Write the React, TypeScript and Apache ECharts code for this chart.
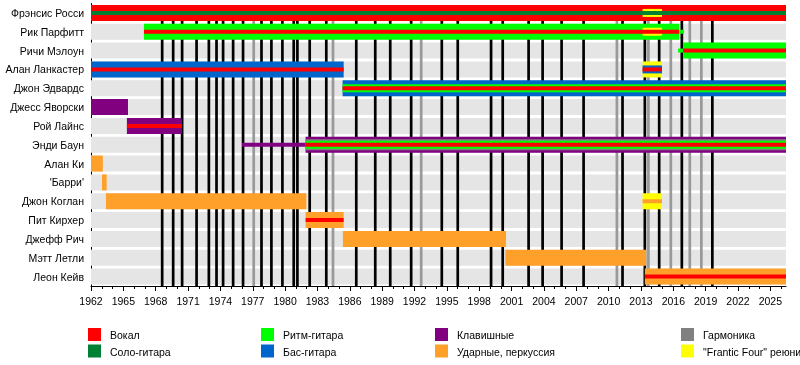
import React, { useEffect, useRef } from "react";
import * as echarts from "echarts";

const MEMBERS = [
  "Фрэнсис Росси",
  "Рик Парфитт",
  "Ричи Мэлоун",
  "Алан Ланкастер",
  "Джон Эдвардс",
  "Джесс Яворски",
  "Рой Лайнс",
  "Энди Баун",
  "Алан Ки",
  "'Барри'",
  "Джон Коглан",
  "Пит Кирхер",
  "Джефф Рич",
  "Мэтт Летли",
  "Леон Кейв",
];

const START = 1962;
const END = 2026.45;

const TICK_YEARS = [1962, 1965, 1968, 1971, 1974, 1977, 1980, 1983, 1986, 1989, 1992, 1995, 1998, 2001, 2004, 2007, 2010, 2013, 2016, 2019, 2022, 2025];

// roles: key, legend label, colour
const ROLES = [
  { key: "vocal", label: "Вокал", color: "#ff0000" },
  { key: "lead", label: "Соло-гитара", color: "#008033" },
  { key: "rhythm", label: "Ритм-гитара", color: "#00ff00" },
  { key: "bass", label: "Бас-гитара", color: "#0066cc" },
  { key: "keys", label: "Клавишные", color: "#800080" },
  { key: "drums", label: "Ударные, перкуссия", color: "#ffa02a" },
  { key: "harmonica", label: "Гармоника", color: "#808080" },
  { key: "reunion", label: "\"Frantic Four\" реюнион", color: "#ffff00" },
];

// studio albums (black lines) and live albums (grey lines)
const STUDIO_RELEASES = [1968.6, 1969.62, 1970.45, 1971.79, 1972.93, 1973.64, 1974.25, 1975.18, 1976.1, 1977.81, 1978.73, 1979.75, 1980.8, 1981.14, 1982.28, 1983.82, 1986.6, 1988.36, 1989.75, 1991.69, 1994.53, 1996.01, 1999.1, 2000.18, 2002.58, 2003.88, 2005.64, 2007.68, 2011.29, 2013.36, 2014.69, 2016.79, 2019.62];
const LIVE_RELEASES = [1977.09, 1984.44, 1992.62, 2010.77, 2013.69, 2015.77, 2017.53, 2018.6];

// [member row, role, start, end, layer (0 = main role, 3 = innermost stripe)]
const SEGMENTS: [number, string, number, number, number][] = [
  [0, "vocal", 1962, END, 0],
  [0, "reunion", 2013.15, 2014.95, 2],
  [0, "lead", 1962, END, 3],
  [1, "rhythm", 1966.91, 2016.54, 0],
  [1, "reunion", 2013.15, 2014.95, 2],
  [1, "vocal", 1966.91, 2016.54, 3],
  [1, "rhythm", 2016.54, 2017.0, 3],
  [2, "rhythm", 2016.44, 2016.91, 3],
  [2, "rhythm", 2016.91, END, 0],
  [2, "vocal", 2016.91, END, 3],
  [3, "bass", 1962, 1985.43, 0],
  [3, "reunion", 2013.15, 2014.95, 0],
  [3, "bass", 2013.15, 2014.95, 2],
  [3, "vocal", 1962, 1985.43, 3],
  [3, "vocal", 2013.15, 2014.95, 3],
  [4, "bass", 1985.33, END, 0],
  [4, "rhythm", 1985.33, END, 2],
  [4, "vocal", 1985.33, END, 3],
  [5, "keys", 1962, 1965.43, 0],
  [6, "keys", 1965.33, 1970.43, 0],
  [6, "vocal", 1965.33, 1970.43, 3],
  [7, "keys", 1976.0, 1981.9, 3],
  [7, "keys", 1981.9, END, 0],
  [7, "harmonica", 1981.9, END, 1],
  [7, "rhythm", 1981.9, END, 2],
  [7, "vocal", 1981.9, END, 3],
  [8, "drums", 1962, 1963.1, 0],
  [9, "drums", 1963.02, 1963.45, 0],
  [10, "drums", 1963.39, 1981.97, 0],
  [10, "reunion", 2013.15, 2014.95, 0],
  [10, "drums", 2013.15, 2014.95, 3],
  [11, "drums", 1981.9, 1985.43, 0],
  [11, "vocal", 1981.9, 1985.43, 3],
  [12, "drums", 1985.36, 2000.49, 0],
  [13, "drums", 2000.43, 2013.48, 0],
  [14, "drums", 2013.36, END, 0],
  [14, "vocal", 2013.36, END, 3],
];

const LAYER_H = [16, 11, 8, 4];
const BAND_H = 16;
const FONT = "'Liberation Sans', Arial, sans-serif";
const FS = 10.5;

export default function App() {
  const ref = useRef<HTMLDivElement>(null);
  useEffect(() => {
    if (!ref.current) return;
    const chart = echarts.init(ref.current, null, { renderer: "svg" });
    const colorOf: Record<string, string> = {};
    ROLES.forEach((r) => (colorOf[r.key] = r.color));

    const segs = SEGMENTS.map((s, i) => ({ s, i })).sort((a, b) => a.s[4] - b.s[4] || a.i - b.i).map((o) => o.s);

    const allYears: number[] = [];
    for (let y = 1962; y <= 2026; y++) allYears.push(y);

    const lineSeries = (years: number[], color: string) => ({
      type: "custom",
      z: 2,
      silent: true,
      data: years.map((y) => [y, 0]),
      encode: { x: 0, y: 1 },
      renderItem: (params: any, api: any) => {
        const p = api.coord([api.value(0), 0]);
        const cs = params.coordSys;
        return {
          type: "line",
          shape: { x1: p[0], y1: p[1] - BAND_H / 2, x2: p[0], y2: cs.y + cs.height },
          style: { stroke: color, lineWidth: 2.7 },
        };
      },
    });

    const legendCols = [88, 261, 435, 681];
    const legendRows = [328, 344.5];
    const graphic: any[] = [];
    ROLES.forEach((r, i) => {
      const cx = legendCols[Math.floor(i / 2)];
      const cy = legendRows[i % 2];
      graphic.push({ type: "rect", shape: { x: cx, y: cy, width: 13, height: 13 }, style: { fill: r.color } });
      graphic.push({
        type: "text",
        x: cx + 22,
        y: cy + 7,
        style: { text: r.label, fill: "#000", font: `${FS}px ${FONT}`, verticalAlign: "middle" },
      });
    });

    chart.setOption({
      animation: false,
      grid: { left: 91, right: 14, top: 3.5, bottom: 79 },
      xAxis: [
        {
          type: "value",
          min: START,
          max: END,
          position: "bottom",
          axisLine: { show: true, lineStyle: { color: "#000", width: 1 } },
          axisTick: { show: true, length: 5, customValues: TICK_YEARS, lineStyle: { color: "#000" } },
          axisLabel: {
            customValues: TICK_YEARS,
            fontSize: FS,
            color: "#000",
            margin: 9,
            fontFamily: FONT,
            formatter: (v: number) => String(v),
          },
          splitLine: { show: false },
        },
        {
          type: "value",
          min: START,
          max: END,
          position: "bottom",
          axisLine: { show: false },
          axisTick: { show: true, length: 3, customValues: allYears, lineStyle: { color: "#000" } },
          axisLabel: { show: false },
          splitLine: { show: false },
        },
      ],
      yAxis: {
        type: "category",
        data: MEMBERS,
        inverse: true,
        axisLine: { show: true, lineStyle: { color: "#000", width: 1 } },
        axisTick: { show: false },
        axisLabel: { fontSize: FS, color: "#000", margin: 7, fontFamily: FONT },
        splitLine: { show: false },
      },
      graphic,
      series: [
        {
          type: "custom",
          z: 1,
          silent: true,
          data: MEMBERS.map((_, i) => [START, i, END]),
          encode: { x: [0, 2], y: 1 },
          renderItem: (params: any, api: any) => {
            const a = api.coord([api.value(0), api.value(1)]);
            const b = api.coord([api.value(2), api.value(1)]);
            return {
              type: "rect",
              shape: { x: a[0], y: a[1] - BAND_H / 2, width: b[0] - a[0], height: BAND_H },
              style: { fill: "#e5e5e5" },
            };
          },
        },
        lineSeries(STUDIO_RELEASES, "#000000"),
        lineSeries(LIVE_RELEASES, "#999999"),
        {
          type: "custom",
          z: 3,
          silent: true,
          data: segs.map((s) => [s[2], s[0], s[3]]),
          encode: { x: [0, 2], y: 1 },
          renderItem: (params: any, api: any) => {
            const seg = segs[params.dataIndex];
            const a = api.coord([seg[2], seg[0]]);
            const b = api.coord([seg[3], seg[0]]);
            const h = LAYER_H[seg[4]];
            return {
              type: "rect",
              shape: { x: a[0], y: a[1] - h / 2, width: b[0] - a[0], height: h },
              style: { fill: colorOf[seg[1]] },
            };
          },
        },
      ],
    });
    return () => chart.dispose();
  }, []);
  return <div ref={ref} style={{ position: "fixed", left: 0, top: 0, width: 800, height: 365 }} />;
}
